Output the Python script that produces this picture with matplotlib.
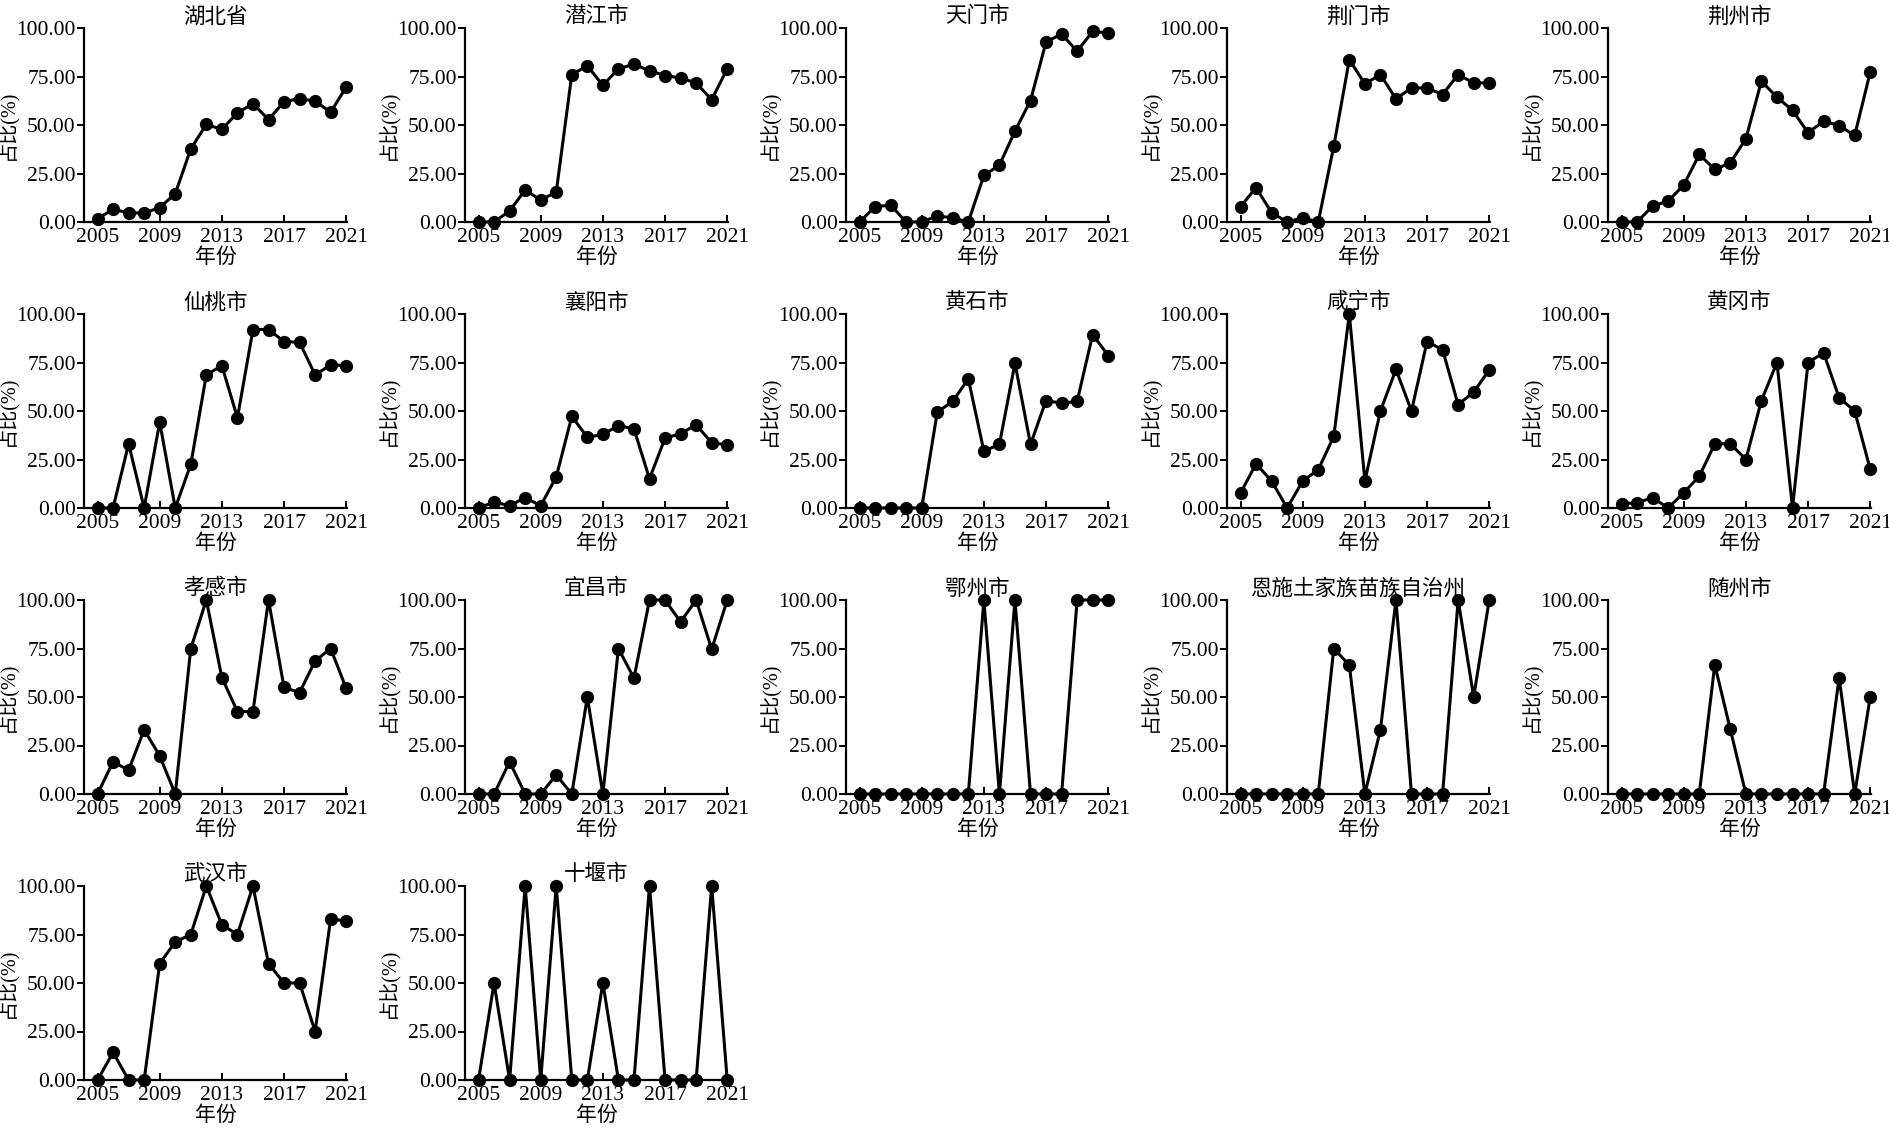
import numpy as np
import matplotlib
matplotlib.use("Agg")
import matplotlib.pyplot as plt
from matplotlib.ticker import FormatStrFormatter

plt.rcParams['font.family'] = ['Liberation Serif', 'Noto Sans CJK SC']
plt.rcParams['font.size'] = 15
plt.rcParams['axes.unicode_minus'] = False

years = list(range(2005, 2022))

# share (%) per region, 2005-2021
hubei     = [1.7, 6.5, 4.8, 4.6, 7.4, 14.6, 37.7, 50.3, 47.7, 56.3, 61.0, 52.8, 62.0, 63.6, 62.3, 56.6, 69.6]
qianjiang = [0, 0, 5.7, 16.5, 11.3, 15.4, 76.0, 80.5, 70.4, 79.0, 81.3, 78.0, 75.5, 74.2, 71.7, 63.0, 79.0]
tianmen   = [0, 7.9, 8.7, 0, 0, 3.1, 2.2, 0, 24.0, 29.3, 46.8, 62.6, 92.8, 96.9, 88.0, 98.3, 97.4]
jingmen   = [7.9, 17.7, 4.8, 0, 2.2, 0, 39.1, 83.7, 71.2, 76.0, 63.5, 69.1, 69.1, 65.7, 76.0, 71.7, 71.7]
jingzhou  = [0, 0, 8.2, 10.8, 19.0, 34.8, 27.1, 30.5, 42.9, 72.6, 64.3, 57.6, 46.0, 52.0, 49.7, 44.6, 77.2]
xiantao   = [0, 0, 33.1, 0, 44.3, 0, 22.5, 68.6, 73.4, 46.5, 92.0, 92.0, 85.8, 85.4, 68.6, 73.8, 73.4]
xiangyang = [0, 3.1, 1.2, 5.3, 1.2, 16.0, 47.2, 36.5, 37.9, 42.5, 40.8, 15.1, 36.0, 38.3, 42.9, 33.6, 32.6]
huangshi  = [0, 0, 0, 0, 0, 49.4, 55.0, 66.6, 29.3, 32.8, 74.6, 32.8, 55.4, 54.0, 55.0, 89.4, 78.6]
xianning  = [7.7, 22.8, 13.9, 0, 13.9, 19.7, 37.0, 100, 13.9, 50.0, 71.4, 50.0, 85.8, 81.6, 53.3, 59.7, 71.2]
huanggang = [2.2, 2.7, 5.3, 0, 7.9, 16.3, 33.1, 33.1, 25.0, 55.4, 75.0, 0, 75.0, 80.0, 56.8, 50.0, 20.0]
xiaogan   = [0, 16.6, 12.3, 33.1, 19.7, 0, 75.0, 100, 60.0, 42.5, 42.5, 100, 54.9, 52.3, 68.6, 75.0, 54.4]
yichang   = [0, 0, 16.6, 0, 0, 9.8, 0, 50.0, 0, 75.0, 59.7, 100, 100, 88.7, 100, 74.6, 100]
ezhou     = [0, 0, 0, 0, 0, 0, 0, 0, 100, 0, 100, 0, 0, 0, 100, 100, 100]
enshi     = [0, 0, 0, 0, 0, 0, 75.0, 66.4, 0, 33.1, 100, 0, 0, 0, 100, 50.0, 100]
suizhou   = [0, 0, 0, 0, 0, 0, 66.6, 33.3, 0, 0, 0, 0, 0, 0, 60.0, 0, 50.0]
wuhan     = [0, 14.2, 0, 0, 60.0, 71.2, 75.0, 100, 80.0, 75.0, 100, 60.0, 50.0, 50.0, 25.0, 83.2, 81.8]
shiyan    = [0, 50, 0, 100, 0, 100, 0, 0, 50, 0, 0, 100, 0, 0, 0, 100, 0]

names = ["湖北省", "潜江市", "天门市", "荆门市", "荆州市",
         "仙桃市", "襄阳市", "黄石市", "咸宁市", "黄冈市",
         "孝感市", "宜昌市", "鄂州市", "恩施土家族苗族自治州", "随州市",
         "武汉市", "十堰市"]
series = [hubei, qianjiang, tianmen, jingmen, jingzhou,
          xiantao, xiangyang, huangshi, xianning, huanggang,
          xiaogan, yichang, ezhou, enshi, suizhou,
          wuhan, shiyan]

W, H = 1890, 1132
fig = plt.figure(figsize=(W / 100, H / 100), dpi=100)

for i, (name, vals) in enumerate(zip(names, series)):
    row, col = divmod(i, 5)
    left = 84 + 381 * col
    top = 28 + 286 * row
    ax = fig.add_axes([left / W, 1 - (top + 194) / H, 263 / W, 194 / H])
    ax.plot(years, vals, color='black', lw=2.2, marker='o', ms=8.5, clip_on=False, zorder=3)
    ax.set_xlim(2004.13, 2021.05)
    ax.set_ylim(0, 100)
    ax.set_xticks([2005, 2009, 2013, 2017, 2021])
    ax.set_yticks([0, 25, 50, 75, 100])
    ax.yaxis.set_major_formatter(FormatStrFormatter('%.2f'))
    for s in ['top', 'right']:
        ax.spines[s].set_visible(False)
    for s in ['left', 'bottom']:
        ax.spines[s].set_linewidth(1.6)
    ax.tick_params(axis='x', direction='in', length=5, width=1.4, pad=4, labelsize=15.5)
    ax.tick_params(axis='y', direction='out', length=5, width=1.4, pad=1, labelsize=15.5)
    ax.set_title(name, fontsize=15.5, pad=4)
    ax.set_xlabel("年份", fontsize=15, labelpad=1)
    ax.set_ylabel("占比(%)", fontsize=14.5)
    ax.yaxis.set_label_coords(-0.25, 0.5)

fig.savefig("out.png", dpi=100)
